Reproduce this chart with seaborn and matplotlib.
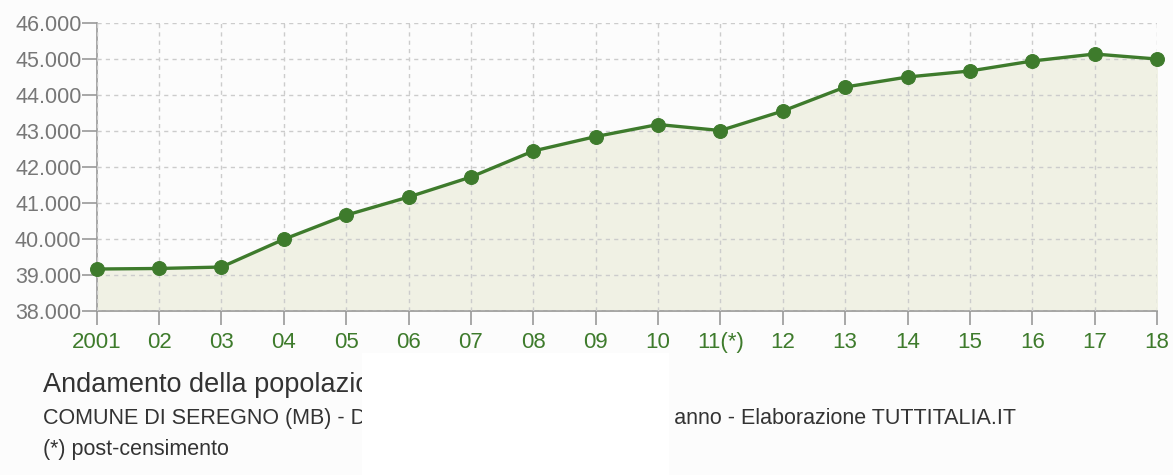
import numpy as np
import pandas as pd
import seaborn as sns
import matplotlib.pyplot as plt
from matplotlib.patches import Rectangle
from matplotlib.ticker import FuncFormatter

# popolazione residente al 31 dicembre
anni = ['2001', '02', '03', '04', '05', '06', '07', '08', '09', '10',
        '11(*)', '12', '13', '14', '15', '16', '17', '18']
popolazione = [39165, 39180, 39220, 39990, 40660, 41163, 41718, 42440, 42840,
               43175, 43008, 43549, 44215, 44493, 44660, 44937, 45131, 44992]

titolo = 'Andamento della popolazione residente'
fonte = 'COMUNE DI SEREGNO (MB) - Dati ISTAT al 31 dicembre di ogni anno - Elaborazione TUTTITALIA.IT'
nota = '(*) post-censimento'

verde = '#3e7b2c'
df = pd.DataFrame({'x': np.arange(len(anni)), 'pop': popolazione})

sns.set_style('white')
plt.rcParams['font.family'] = ['Liberation Sans', 'DejaVu Sans']

fig = plt.figure(figsize=(11.73, 4.75), dpi=100, facecolor='#fcfcfc')
ax = fig.add_axes([96.7 / 1173, 1 - 311 / 475, (1157 - 96.7) / 1173, (311 - 22.7) / 475])
ax.set_facecolor('#fcfcfc')

ax.fill_between(df['x'], df['pop'], 38000, color='#f0f1e4', zorder=1)
sns.lineplot(data=df, x='x', y='pop', ax=ax, color=verde, linewidth=2.4,
             marker='o', markersize=10, markeredgecolor=verde, clip_on=False, zorder=3)

ax.set_xlim(0, len(anni) - 1)
ax.set_ylim(38000, 46000)
ax.set_xticks(df['x'])
ax.set_xticklabels(anni)
ax.set_yticks(range(38000, 46001, 1000))
ax.yaxis.set_major_formatter(FuncFormatter(lambda v, p: f'{int(v):,}'.replace(',', '.')))
ax.set_xlabel('')
ax.set_ylabel('')

ax.grid(True, color='#cccccc', linestyle=(0, (3, 3)), linewidth=1, zorder=2)
ax.set_axisbelow(False)
for s in ['top', 'right']:
    ax.spines[s].set_visible(False)
for s in ['left', 'bottom']:
    ax.spines[s].set_color('#999999')
    ax.spines[s].set_linewidth(1.2)

ax.tick_params(axis='x', direction='out', length=10, width=1.2, color='#999999',
               labelcolor=verde, labelsize=16, pad=5, bottom=True)
ax.tick_params(axis='y', direction='out', length=11, width=1.2, color='#999999',
               labelcolor='#777777', labelsize=15.5, pad=0, left=True)

fig.text(43 / 1173, 1 - 392 / 475, titolo, fontsize=19.5, color='#333333', va='baseline')
fig.text(43 / 1173, 1 - 424 / 475, fonte, fontsize=15.5, color='#333333', va='baseline')
fig.text(43 / 1173, 1 - 455 / 475, nota, fontsize=15.5, color='#333333', va='baseline')

# riquadro bianco che copre parte della didascalia, come nell'originale
fig.patches.append(Rectangle((362 / 1173, 0), (669 - 362) / 1173, 1 - 353 / 475,
                             transform=fig.transFigure, facecolor='white',
                             edgecolor='none', zorder=5))

fig.savefig('out.png', dpi=100, facecolor=fig.get_facecolor())
